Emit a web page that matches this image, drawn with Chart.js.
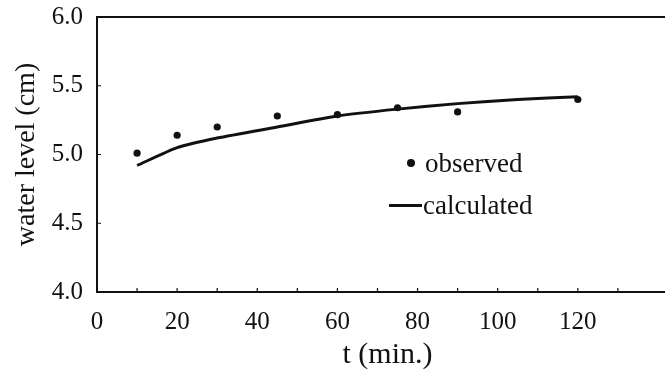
<!DOCTYPE html>
<html>
<head>
<meta charset="utf-8">
<script src="https://cdn.jsdelivr.net/npm/chart.js@4.4.1/dist/chart.umd.min.js"></script>
<style>
  html, body { margin: 0; padding: 0; background: #fff; overflow: hidden; }
  #wrap { position: relative; width: 682px; height: 371px; }
  #legend { position: absolute; left: 389px; top: 142px; font-family: "Liberation Serif", serif; font-size: 27px; color: #111; line-height: 42px; }
  #legend .row { display: flex; align-items: center; }
  #legend .dot { display: inline-block; width: 8px; height: 8px; border-radius: 50%; background: #111; margin: 0 10px 0 18px; }
  #legend .bar { display: inline-block; width: 33px; height: 3px; background: #111; margin-right: 1px; }
</style>
</head>
<body>
<div id="wrap">
  <canvas id="mycanvas"></canvas>
  <div id="legend">
    <div class="row"><span class="dot"></span>observed</div>
    <div class="row"><span class="bar"></span>calculated</div>
  </div>
</div>
<script>
var obsT = [10, 20, 30, 45, 60, 75, 90, 120];
var obsLevel = [5.01, 5.14, 5.20, 5.28, 5.29, 5.34, 5.31, 5.40];

var calcT = [10, 20, 30, 45, 60, 75, 90, 105, 120];
var calcLevel = [4.92, 5.05, 5.12, 5.20, 5.28, 5.33, 5.37, 5.40, 5.42];

var xTickLabels = [0, 20, 40, 60, 80, 100, 120];
var yTickLabels = [4.0, 4.5, 5.0, 5.5, 6.0];

var serif = "'Liberation Serif', 'Times New Roman', serif";

var observed = [];
for (var i in obsT) observed.push({x: obsT[i], y: obsLevel[i]});
var calculated = [];
for (var j in calcT) calculated.push({x: calcT[j], y: calcLevel[j]});

// box + inward tick marks
var frame = {
	id: 'frame',
	afterDraw: function(chart) {
		var c = chart.ctx, a = chart.chartArea;
		var xs = chart.scales.x, ys = chart.scales.y;
		c.save();
		c.strokeStyle = '#111';
		c.lineWidth = 2;
		c.beginPath();
		c.moveTo(a.right + 5, a.top);
		c.lineTo(a.left, a.top);
		c.lineTo(a.left, a.bottom);
		c.lineTo(a.right + 5, a.bottom);
		c.stroke();
		c.lineWidth = 1.2;
		c.beginPath();
		for (var v = 10; v <= 130; v += 10) {
			var px = xs.getPixelForValue(v);
			c.moveTo(px, a.bottom);
			c.lineTo(px, a.bottom - 4);
		}
		for (var k = 1; k < yTickLabels.length - 1; k++) {
			var py = ys.getPixelForValue(yTickLabels[k]);
			c.moveTo(a.left, py);
			c.lineTo(a.left + 4, py);
		}
		c.stroke();
		c.restore();
	}
};

var ctx = document.getElementById('mycanvas');
var chart = new Chart(ctx, {
	type: 'scatter',
	data: {
		datasets: [
			{
				label: 'observed',
				data: observed,
				showLine: false,
				pointRadius: 3.6,
				pointBackgroundColor: '#111',
				pointBorderWidth: 0
			},
			{
				label: 'calculated',
				data: calculated,
				showLine: true,
				borderColor: '#111',
				borderWidth: 3,
				pointRadius: 0,
				tension: 0.2
			}
		]
	},
	options: {
		responsive: true,
		maintainAspectRatio: false,
		animation: false,
		layout: { padding: { top: 17, right: 0, left: 10, bottom: 0 } },
		plugins: { legend: { display: false }, tooltip: { enabled: false } },
		scales: {
			x: {
				type: 'linear',
				min: 0,
				max: 145,
				grid: { display: false },
				border: { display: false },
				ticks: {
					stepSize: 10,
					color: '#111',
					padding: 7,
					maxRotation: 0,
					autoSkip: false,
					font: { family: serif, size: 25 },
					callback: function(v) { return xTickLabels.indexOf(v) >= 0 ? String(v) : ''; }
				},
				title: { display: true, text: 't (min.)', color: '#111', padding: 0, font: { family: serif, size: 30, lineHeight: 1.05 } },
				afterFit: function(s) { s.height = 79; s.paddingLeft = 0; s.paddingRight = 0; }
			},
			y: {
				min: 4,
				max: 6,
				grid: { display: false },
				border: { display: false },
				ticks: {
					stepSize: 0.5,
					color: '#111',
					padding: 6,
					font: { family: serif, size: 25 },
					callback: function(v) { return v.toFixed(1); }
				},
				title: { display: true, text: 'water level (cm)', color: '#111', padding: 0, font: { family: serif, size: 28 } },
				afterFit: function(s) { s.width = 87; s.paddingTop = 0; s.paddingBottom = 0; }
			}
		}
	},
	plugins: [frame]
});
</script>
</body>
</html>
